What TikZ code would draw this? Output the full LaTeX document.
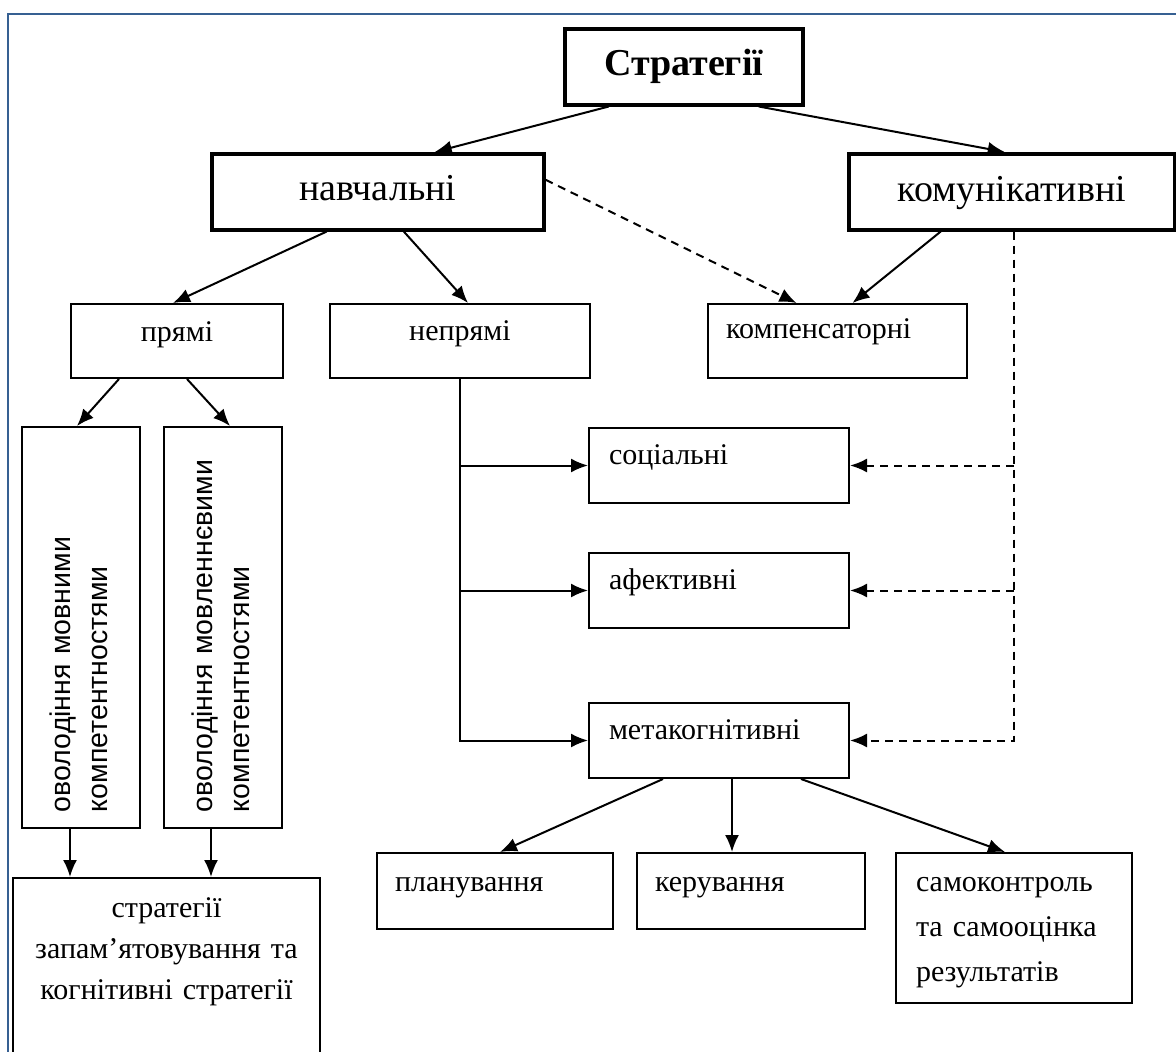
\documentclass[tikz,border=0pt]{standalone}
\usepackage{fontspec}
\setmainfont{Liberation Serif}
\setsansfont{Liberation Sans}
\usetikzlibrary{arrows.meta}
\definecolor{frameblue}{RGB}{54,96,146}
\tikzstyle{mainbox} = [rectangle, draw=black, line width=3.5pt, anchor=north west, inner xsep=0pt, inner ysep=0pt, align=center, font=\fontsize{38}{44}\selectfont]
\tikzstyle{subbox} = [rectangle, draw=black, line width=2pt, anchor=north west, inner ysep=0pt, font=\fontsize{30}{41}\selectfont]
\tikzstyle{vertbox} = [rectangle, draw=black, line width=2pt, rotate=90, inner xsep=16pt, inner ysep=0pt, text width=369pt, text height=48pt, text depth=70pt, align=left, font=\sffamily\fontsize{28.5}{37}\selectfont]
\tikzstyle{arrow} = [line width=2pt, -{Latex[length=17pt,width=14pt]}]
\tikzstyle{dasharrow} = [arrow, dash pattern=on 8pt off 6pt]

\begin{document}
\begin{tikzpicture}[x=1pt, y=-1pt]
  \clip (0,0) rectangle (1176,1052);
  \draw [frameblue, line width=2.5pt] (8,1060) -- (8,14) -- (1180,14);

  \node (strat) [mainbox, font=\bfseries\fontsize{38}{44}\selectfont, text width=238pt, text height=47pt, text depth=29pt] at (563,27) {Стратегії};
  \node (navch) [mainbox, text width=332pt, text height=47pt, text depth=29pt] at (210,152) {навчальні};
  \node (komun) [mainbox, text width=326pt, text height=48pt, text depth=28pt] at (847,152) {комунікативні};

  \node (pryami) [subbox, align=center, inner xsep=0pt, text width=212pt, text height=37pt, text depth=37pt] at (70,303) {прямі};
  \node (nepryami) [subbox, align=center, inner xsep=0pt, text width=260pt, text height=36pt, text depth=38pt] at (329,303) {непрямі};
  \node (kompens) [subbox, align=left, inner xsep=18pt, text width=223pt, text height=34pt, text depth=40pt] at (707,303) {компенсаторні};

  \node (vert1) [vertbox] at (81,627.5) {оволодіння мовними\\компетентностями};
  \node (vert2) [vertbox] at (223,627.5) {оволодіння мовленнєвими\\компетентностями};
  \node (zapam) [subbox, align=center, inner xsep=0pt, text width=307pt, text height=39pt, text depth=170pt] at (12,877) {стратегії\\запам’ятовування та\\когнітивні стратегії};

  \node (soc) [subbox, align=left, inner xsep=20pt, text width=220pt, text height=36pt, text depth=39pt] at (588,427) {соціальні};
  \node (afekt) [subbox, align=left, inner xsep=20pt, text width=220pt, text height=36pt, text depth=39pt] at (588,552) {афективні};
  \node (metakog) [subbox, align=left, inner xsep=20pt, text width=220pt, text height=36pt, text depth=39pt] at (588,702) {метакогнітивні};

  \node (plan) [subbox, align=left, inner xsep=18pt, text width=200pt, text height=38pt, text depth=38pt] at (376,852) {планування};
  \node (keruv) [subbox, align=left, inner xsep=18pt, text width=192pt, text height=38pt, text depth=38pt] at (636,852) {керування};
  \node (samok) [subbox, align=left, inner xsep=20pt, text width=196pt, text height=38pt, text depth=112pt, font=\fontsize{30}{45}\selectfont] at (895,852) {самоконтроль\\та самооцінка\\результатів};

  \draw [arrow] ([xshift=-75pt]strat.south) -- ([xshift=57pt]navch.north);
  \draw [arrow] ([xshift=75pt]strat.south) -- ([xshift=-7pt]komun.north);
  \draw [arrow] ([xshift=-51pt]navch.south) -- ([xshift=-4pt]pryami.north);
  \draw [arrow] ([xshift=26pt]navch.south) -- ([xshift=8pt]nepryami.north);
  \draw [dasharrow] ([yshift=12pt]navch.east) -- ([xshift=-41pt]kompens.north);
  \draw [arrow] ([xshift=-71pt]komun.south) -- ([xshift=15pt]kompens.north);

  \draw [dasharrow] ([xshift=2pt]komun.south) |- (metakog.east);
  \draw [dasharrow] ([xshift=2pt]komun.south |- soc.east) -- (soc.east);
  \draw [dasharrow] ([xshift=2pt]komun.south |- afekt.east) -- (afekt.east);

  \draw [arrow] (nepryami.south) |- (metakog.west);
  \draw [arrow] (nepryami.south |- soc.west) -- (soc.west);
  \draw [arrow] (nepryami.south |- afekt.west) -- (afekt.west);

  \draw [arrow] ([xshift=-58pt]pryami.south) -- ([xshift=-4pt]vert1.east);
  \draw [arrow] ([xshift=10pt]pryami.south) -- ([xshift=7pt]vert2.east);
  \draw [arrow] ([xshift=-11pt]vert1.west) -- ([xshift=-11pt]vert1.west |- zapam.north);
  \draw [arrow] ([xshift=-12pt]vert2.west) -- ([xshift=-12pt]vert2.west |- zapam.north);

  \draw [arrow] ([xshift=-56pt]metakog.south) -- ([xshift=5pt]plan.north);
  \draw [arrow] ([xshift=13pt]metakog.south) -- ([xshift=13pt]metakog.south |- keruv.north);
  \draw [arrow] ([xshift=82pt]metakog.south) -- ([xshift=-9pt]samok.north);
\end{tikzpicture}
\end{document}
